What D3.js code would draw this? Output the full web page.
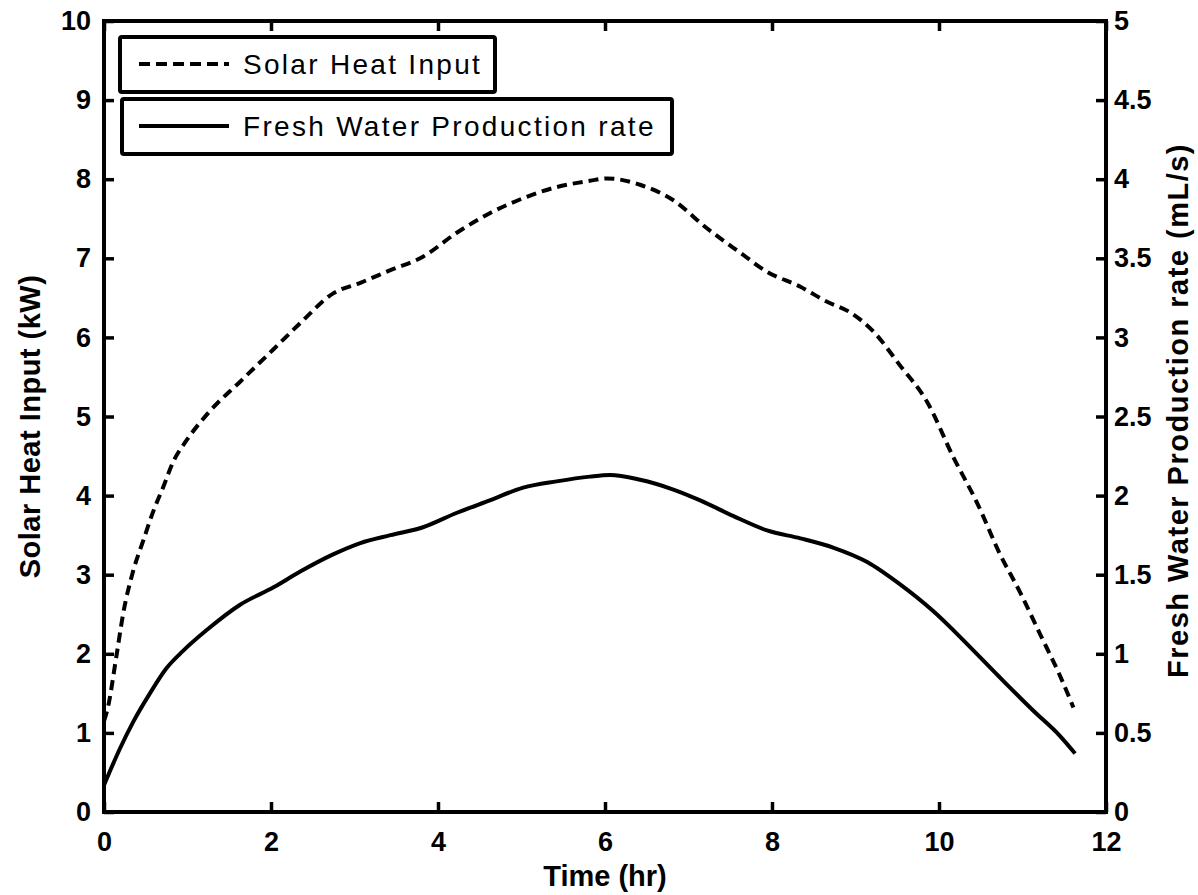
<!DOCTYPE html>
<html>
<head>
<meta charset="utf-8">
<script src="https://cdn.jsdelivr.net/npm/d3@7"></script>
<style>
  html, body { margin: 0; padding: 0; background: #fff; }
  svg { display: block; }
  text { font-family: "Liberation Sans", Arial, sans-serif; fill: #000; }
</style>
</head>
<body>
<svg id="chart" width="1198" height="895"></svg>
<script>
// Time (hr)
const solarTime = [0, 0.04, 0.15, 0.23, 0.35, 0.47, 0.59, 0.71, 0.83, 0.99, 1.27, 1.63, 2.03, 2.35, 2.75, 3.07, 3.43, 3.82, 4.22, 4.62, 5.02, 5.42, 5.82, 6.02, 6.42, 6.81, 7.22, 7.62, 7.94, 8.34, 8.66, 8.93, 9.21, 9.53, 9.86, 10.17, 10.46, 10.73, 10.97, 11.21, 11.45, 11.61];
// Solar Heat Input (kW), left axis
const solarHeat = [1.15, 1.29, 1.98, 2.51, 3.05, 3.43, 3.80, 4.11, 4.43, 4.70, 5.07, 5.44, 5.85, 6.18, 6.56, 6.69, 6.85, 7.02, 7.32, 7.57, 7.76, 7.90, 7.98, 8.01, 7.93, 7.74, 7.38, 7.07, 6.83, 6.64, 6.45, 6.32, 6.08, 5.65, 5.18, 4.49, 3.90, 3.26, 2.78, 2.25, 1.72, 1.32];

const waterTime = [0, 0.04, 0.19, 0.35, 0.55, 0.75, 0.95, 1.23, 1.63, 2.03, 2.35, 2.75, 3.07, 3.43, 3.82, 4.22, 4.62, 5.02, 5.42, 5.82, 6.06, 6.42, 6.81, 7.14, 7.54, 7.94, 8.34, 8.74, 9.14, 9.53, 9.93, 10.34, 10.73, 11.13, 11.45, 11.63];
// Fresh Water Production rate (mL/s), right axis
const waterRate = [0.17, 0.22, 0.40, 0.57, 0.75, 0.91, 1.02, 1.15, 1.31, 1.42, 1.52, 1.63, 1.70, 1.75, 1.80, 1.89, 1.97, 2.05, 2.09, 2.12, 2.13, 2.10, 2.04, 1.97, 1.87, 1.78, 1.73, 1.67, 1.58, 1.44, 1.27, 1.06, 0.85, 0.64, 0.48, 0.37];

const xTicks = [0, 2, 4, 6, 8, 10, 12];
const leftTicks = [0, 1, 2, 3, 4, 5, 6, 7, 8, 9, 10];
const rightTicks = [0, 0.5, 1, 1.5, 2, 2.5, 3, 3.5, 4, 4.5, 5];
const rightTickLabels = ["0", "0.5", "1", "1.5", "2", "2.5", "3", "3.5", "4", "4.5", "5"];

const svg = d3.select("#chart");
const L = 104, R = 1106, T = 21, B = 812;

const x = d3.scaleLinear().domain([0, 12]).range([L, R]);
const yL = d3.scaleLinear().domain([0, 10]).range([B, T]);
const yR = d3.scaleLinear().domain([0, 5]).range([B, T]);

const tickLen = 10;

// Axes (ticks pointing inward)
const gx = svg.append("g").attr("transform", `translate(0,${B})`)
  .call(d3.axisBottom(x).tickValues(xTicks).tickSizeInner(-tickLen).tickSizeOuter(0).tickPadding(20).tickFormat(d3.format("d")));
const gxTop = svg.append("g").attr("transform", `translate(0,${T})`)
  .call(d3.axisTop(x).tickValues(xTicks).tickSizeInner(-tickLen).tickSizeOuter(0).tickFormat(""));
const gl = svg.append("g").attr("transform", `translate(${L},0)`)
  .call(d3.axisLeft(yL).tickValues(leftTicks).tickSizeInner(-tickLen).tickSizeOuter(0).tickPadding(13).tickFormat(d3.format("d")));
const gr = svg.append("g").attr("transform", `translate(${R},0)`)
  .call(d3.axisRight(yR).tickValues(rightTicks).tickSizeInner(-tickLen).tickSizeOuter(0).tickPadding(8).tickFormat((d, i) => rightTickLabels[i]));

[gx, gxTop, gl, gr].forEach(g => {
  g.select(".domain").remove();
  g.selectAll(".tick line").attr("stroke", "#000").attr("stroke-width", 3.5);
  g.selectAll(".tick text").attr("font-size", 27).attr("font-weight", "bold").attr("fill", "#000");
});

// Box frame
svg.append("rect").attr("x", L).attr("y", T).attr("width", R - L).attr("height", B - T)
  .attr("fill", "none").attr("stroke", "#000").attr("stroke-width", 4);

// Lines
const solarData = solarTime.map((t, i) => [t, solarHeat[i]]);
const waterData = waterTime.map((t, i) => [t, waterRate[i]]);

svg.append("path").datum(solarData)
  .attr("fill", "none").attr("stroke", "#000").attr("stroke-width", 4)
  .attr("stroke-dasharray", "10,6")
  .attr("d", d3.line().x(d => x(d[0])).y(d => yL(d[1])).curve(d3.curveMonotoneX));

svg.append("path").datum(waterData)
  .attr("fill", "none").attr("stroke", "#000").attr("stroke-width", 4)
  .attr("d", d3.line().x(d => x(d[0])).y(d => yR(d[1])).curve(d3.curveMonotoneX));

// Legends
const legends = [
  { label: "Solar Heat Input", dash: "11,6", box: [120, 37, 375, 55], ly: 64 },
  { label: "Fresh Water Production rate", dash: null, box: [122, 99, 550, 55], ly: 126 }
];
legends.forEach(lg => {
  svg.append("rect").attr("x", lg.box[0]).attr("y", lg.box[1]).attr("width", lg.box[2]).attr("height", lg.box[3])
    .attr("fill", "#fff").attr("stroke", "#000").attr("stroke-width", 4).attr("rx", 2);
  svg.append("line").attr("x1", 139).attr("x2", 229).attr("y1", lg.ly).attr("y2", lg.ly)
    .attr("stroke", "#000").attr("stroke-width", 4).attr("stroke-dasharray", lg.dash);
  svg.append("text").attr("x", 243).attr("y", lg.ly + 10).attr("font-size", 28)
    .attr("letter-spacing", 2.3).text(lg.label);
});

// Axis titles
svg.append("text").attr("x", (L + R) / 2).attr("y", 886).attr("text-anchor", "middle")
  .attr("font-size", 29).attr("font-weight", "bold").text("Time (hr)");
svg.append("text").attr("transform", `translate(40,${(T + B) / 2 + 10}) rotate(-90)`).attr("text-anchor", "middle")
  .attr("font-size", 29).attr("font-weight", "bold").attr("letter-spacing", 0.5).text("Solar Heat Input (kW)");
svg.append("text").attr("transform", `translate(1188,${(T + B) / 2 - 6}) rotate(-90)`).attr("text-anchor", "middle")
  .attr("font-size", 29).attr("font-weight", "bold").attr("letter-spacing", 1.5).text("Fresh Water Production rate (mL/s)");
</script>
</body>
</html>
